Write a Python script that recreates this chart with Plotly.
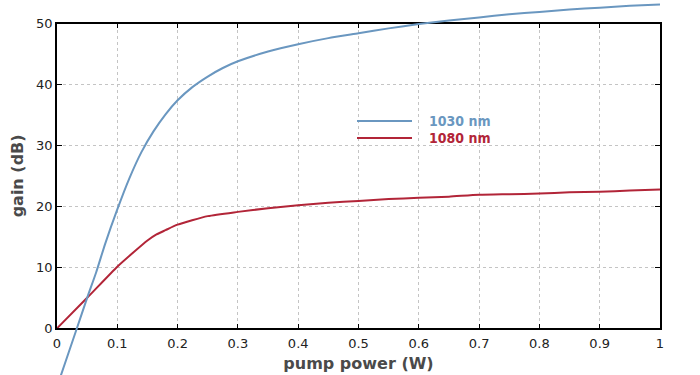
import plotly.graph_objects as go

# ---- data ----
pump_1030 = [0.0, 0.033, 0.05, 0.065, 0.08, 0.1, 0.12, 0.14, 0.16, 0.18, 0.2, 0.225, 0.25, 0.275,
             0.3, 0.35, 0.4, 0.45, 0.5, 0.55, 0.6, 0.65, 0.7, 0.75, 0.8, 0.85, 0.9, 0.95, 1.0]
gain_1030 = [-9.6, 0.0, 5.0, 9.2, 13.9, 19.5, 24.6, 28.9, 32.3, 35.1, 37.4, 39.6, 41.3, 42.7,
             43.8, 45.4, 46.6, 47.6, 48.4, 49.2, 49.9, 50.5, 51.0, 51.5, 51.9, 52.3, 52.6, 52.9, 53.1]
pump_1080 = [0.0, 0.05, 0.1, 0.125, 0.15, 0.165, 0.18, 0.2, 0.25, 0.3, 0.35, 0.4, 0.45, 0.5,
             0.55, 0.6, 0.65, 0.7, 0.75, 0.8, 0.85, 0.9, 0.95, 1.0]
gain_1080 = [0.0, 5.0, 10.1, 12.3, 14.4, 15.4, 16.1, 17.0, 18.4, 19.1, 19.7, 20.2, 20.6, 20.9,
             21.2, 21.4, 21.6, 21.9, 22.0, 22.1, 22.3, 22.4, 22.6, 22.75]
series_names = ["1030 nm", "1080 nm"]
series_colors = ["#6a97c0", "#b22538"]
x_ticks = [0, 0.1, 0.2, 0.3, 0.4, 0.5, 0.6, 0.7, 0.8, 0.9, 1]
y_ticks = [0, 10, 20, 30, 40, 50]

W, H = 700, 375
x_dom = [57 / W, 660 / W]
y_dom = [(H - 328.3) / H, (H - 23.5) / H]
y_range = [0, 50]
# extended axis for the blue curve (same scale, larger clip area)
scale = (y_dom[1] - y_dom[0]) / (y_range[1] - y_range[0])
y2_range = [y_range[0] - y_dom[0] / scale, y_range[1] + (1 - y_dom[1]) / scale]

fig = go.Figure()
fig.add_trace(go.Scatter(x=pump_1080, y=gain_1080, mode="lines", name=series_names[1],
                         line=dict(color=series_colors[1], width=2, shape="spline", smoothing=0.6),
                         xaxis="x", yaxis="y"))
fig.add_trace(go.Scatter(x=pump_1030, y=gain_1030, mode="lines", name=series_names[0],
                         line=dict(color=series_colors[0], width=2, shape="spline", smoothing=0.6),
                         xaxis="x2", yaxis="y2"))

axis_common = dict(showline=True, linecolor="black", linewidth=1.5, mirror="ticks",
                   ticks="inside", ticklen=5, tickcolor="black", tickwidth=1,
                   showgrid=True, gridcolor="#c4c4c4", griddash="3px,3px", gridwidth=1,
                   zeroline=False, automargin=False,
                   tickfont=dict(family="DejaVu Sans", size=13, color="#222222"))

fig.update_layout(
    width=W, height=H,
    margin=dict(l=0, r=0, t=0, b=0),
    paper_bgcolor="white", plot_bgcolor="rgba(0,0,0,0)",
    showlegend=False,
    xaxis=dict(domain=x_dom, range=[0, 1], tickvals=x_ticks, anchor="y", ticklabelstandoff=2,
               title=dict(text="<b>pump power (W)</b>", standoff=8,
                          font=dict(family="DejaVu Sans", size=16, color="#4a4a4a")),
               **axis_common),
    yaxis=dict(domain=y_dom, range=y_range, tickvals=y_ticks, anchor="x",
               title=dict(text="<b>gain (dB)</b>", standoff=8,
                          font=dict(family="DejaVu Sans", size=16, color="#4a4a4a")),
               **axis_common),
    xaxis2=dict(domain=x_dom, range=[0, 1], visible=False, anchor="y2", fixedrange=True),
    yaxis2=dict(domain=[0, 1], range=y2_range, visible=False, anchor="x2", fixedrange=True),
)

# legend drawn as shapes + text
leg_y = [(H - 121) / H, (H - 138) / H]
for i, (name, col) in enumerate(zip(series_names, series_colors)):
    fig.add_shape(type="line", xref="paper", yref="paper",
                  x0=357 / W, x1=412 / W, y0=leg_y[i], y1=leg_y[i],
                  line=dict(color=col, width=2))
    fig.add_annotation(xref="paper", yref="paper", x=427 / W, y=leg_y[i],
                       xanchor="left", yanchor="middle", showarrow=False,
                       text="<b>" + name + "</b>",
                       font=dict(family="DejaVu Sans Condensed", size=14, color=col))

fig.write_html("out.html", config={"displayModeBar": False},
               post_script="document.body.style.margin='0px';")
